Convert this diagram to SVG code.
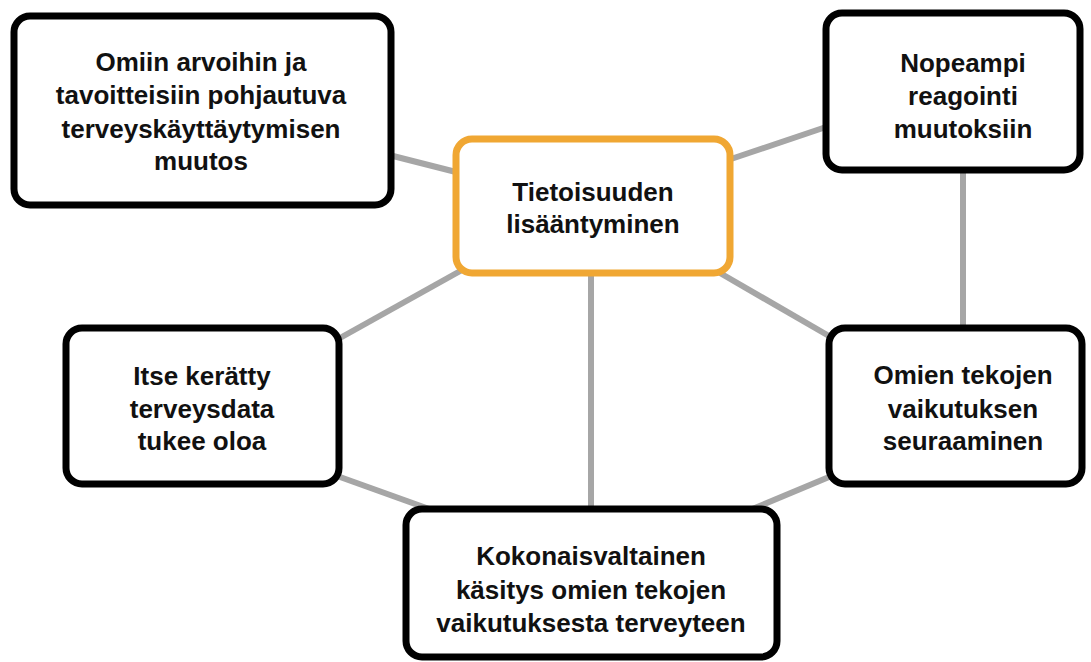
<svg xmlns="http://www.w3.org/2000/svg" width="1091" height="662" viewBox="0 0 1091 662">
<style>
.box{fill:#fff;stroke:#000;stroke-width:7}
.hub{fill:#fff;stroke:#f0a733;stroke-width:7}
.lbl{font-family:"Liberation Sans",Arial,sans-serif;font-weight:bold;font-size:26px;fill:#111;text-anchor:middle}
.con line{stroke:#a6a6a6;stroke-width:6}
</style>
<rect width="1091" height="662" fill="#fff"/>
<g id="connectors" class="con">
<line x1="393" y1="156" x2="456" y2="172"/>
<line x1="728" y1="160" x2="826" y2="127"/>
<line x1="963" y1="170" x2="963" y2="328"/>
<line x1="462" y1="270" x2="340" y2="338"/>
<line x1="591" y1="273" x2="591" y2="509"/>
<line x1="720" y1="273" x2="829" y2="336"/>
<line x1="340" y1="477" x2="432" y2="510"/>
<line x1="829" y1="477" x2="750" y2="510"/>
</g>
<g id="n-values">
<rect class="box" x="14" y="16" width="377" height="189" rx="16"/>
<text class="lbl" x="201" y="71">Omiin arvoihin ja</text>
<text class="lbl" x="201" y="104">tavoitteisiin pohjautuva</text>
<text class="lbl" x="201" y="138">terveyskäyttäytymisen</text>
<text class="lbl" x="201" y="170">muutos</text>
</g>
<g id="n-awareness">
<rect class="hub" x="456" y="139" width="274" height="134" rx="16"/>
<text class="lbl" x="593" y="201">Tietoisuuden</text>
<text class="lbl" x="593" y="233">lisääntyminen</text>
</g>
<g id="n-faster">
<rect class="box" x="826" y="13" width="254" height="157" rx="16"/>
<text class="lbl" x="963" y="72">Nopeampi</text>
<text class="lbl" x="963" y="105">reagointi</text>
<text class="lbl" x="963" y="138">muutoksiin</text>
</g>
<g id="n-selfdata">
<rect class="box" x="66" y="328" width="273" height="156" rx="16"/>
<text class="lbl" x="202" y="385">Itse kerätty</text>
<text class="lbl" x="202" y="418">terveysdata</text>
<text class="lbl" x="202" y="450">tukee oloa</text>
</g>
<g id="n-tracking">
<rect class="box" x="829" y="328" width="253" height="156" rx="16"/>
<text class="lbl" x="963" y="384">Omien tekojen</text>
<text class="lbl" x="963" y="418">vaikutuksen</text>
<text class="lbl" x="963" y="450">seuraaminen</text>
</g>
<g id="n-holistic">
<rect class="box" x="406" y="509" width="371" height="148" rx="16"/>
<text class="lbl" x="591" y="565">Kokonaisvaltainen</text>
<text class="lbl" x="591" y="599">käsitys omien tekojen</text>
<text class="lbl" x="591" y="632">vaikutuksesta terveyteen</text>
</g>
</svg>
